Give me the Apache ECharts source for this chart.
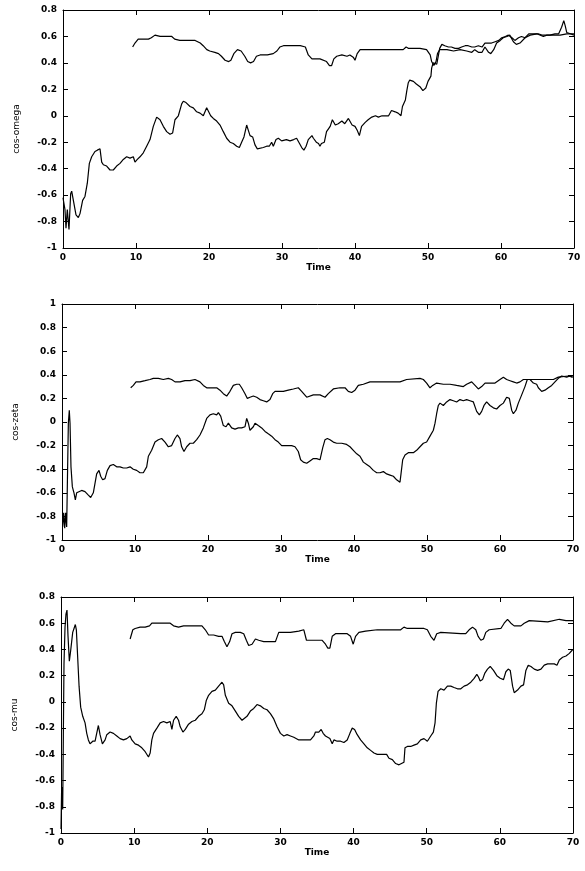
<!DOCTYPE html>
<html>
<head>
<meta charset="utf-8">
<script src="https://cdn.jsdelivr.net/npm/echarts@6/dist/echarts.min.js"></script>
<style>
html, body { margin: 0; padding: 0; background: #fff; }
#main { width: 585px; height: 871px; }
</style>
</head>
<body>
<div id="main"></div>
<script>
// axis ranges
var timeMin = 0, timeMax = 70, timeStep = 10;
var yStep = 0.2;
var panelNames = ['cos-omega', 'cos-zeta', 'cos-mu'];
var panelYMin = [-1, -1, -1];
var panelYMax = [0.8, 1, 0.8];

// panel 1 : cos-omega
var omegaLower = [
    [0, -0.62], [0.27, -0.71], [0.41, -0.85], [0.59, -0.71], [0.82, -0.86], [1.05, -0.59], [1.19, -0.57],
    [1.42, -0.64], [1.78, -0.75], [2.1, -0.77], [2.33, -0.74], [2.69, -0.64], [3.01, -0.61], [3.33, -0.51],
    [3.61, -0.36], [3.93, -0.31], [4.38, -0.27], [4.7, -0.26], [5.07, -0.25], [5.3, -0.35], [5.53, -0.37],
    [5.98, -0.38], [6.44, -0.41], [6.89, -0.41], [7.35, -0.38], [7.81, -0.36], [8.26, -0.33], [8.72, -0.31],
    [9.18, -0.32], [9.63, -0.31], [9.86, -0.35], [10.18, -0.33], [10.55, -0.31], [11.0, -0.28], [11.46, -0.23],
    [11.92, -0.18], [12.37, -0.08], [12.83, -0.01], [13.06, 0.0], [13.29, -0.03], [13.74, -0.08], [14.2, -0.12],
    [14.66, -0.14], [15.02, -0.13], [15.34, -0.03], [15.8, 0.0], [16.26, 0.09], [16.48, 0.11], [16.85, 0.1],
    [17.4, 0.07], [17.85, 0.06], [18.31, 0.03], [18.77, 0.02], [19.22, 0.0], [19.45, -0.01], [19.68, 0.06],
    [19.91, 0.07], [20.23, 0.0], [20.59, -0.02], [21.05, -0.04], [21.51, -0.07], [21.96, -0.12], [22.42, -0.17],
    [22.88, -0.2], [23.33, -0.21], [23.79, -0.23], [24.16, -0.24], [24.47, -0.2], [24.79, -0.16], [25.16, -0.07],
    [25.39, -0.11], [25.62, -0.15], [25.98, -0.16], [26.3, -0.22], [26.62, -0.25], [26.89, -0.26], [27.44, -0.24],
    [27.9, -0.23], [28.26, -0.23], [28.58, -0.2], [28.81, -0.23], [29.18, -0.18], [29.5, -0.17], [29.95, -0.19],
    [30.6, -0.18], [31.1, -0.19], [31.6, -0.18], [32.0, -0.17], [32.4, -0.21], [32.7, -0.24], [33.0, -0.26],
    [33.3, -0.23], [33.6, -0.18], [34.1, -0.15], [34.3, -0.17], [34.7, -0.2], [35.0, -0.21], [35.2, -0.23],
    [35.4, -0.21], [35.8, -0.2], [36.1, -0.12], [36.6, -0.08], [36.9, -0.03], [37.3, -0.07], [37.7, -0.06],
    [38.2, -0.04], [38.6, -0.06], [39.1, -0.02], [39.6, -0.07], [40.0, -0.08], [40.3, -0.11], [40.6, -0.15],
    [40.9, -0.08], [41.4, -0.05], [41.8, -0.03], [42.3, -0.01], [42.8, 0.0], [43.2, -0.01], [43.7, 0.0],
    [44.1, 0.0], [44.6, 0.0], [45.0, 0.04], [45.5, 0.03], [45.9, 0.02], [46.3, 0.0], [46.5, 0.07], [46.9, 0.12],
    [47.1, 0.19], [47.3, 0.25], [47.5, 0.27], [48.0, 0.26], [48.4, 0.24], [48.9, 0.22], [49.3, 0.19], [49.7, 0.21],
    [50.0, 0.26], [50.4, 0.3], [50.5, 0.36], [50.7, 0.4], [50.9, 0.41], [51.2, 0.39], [51.4, 0.45], [51.6, 0.51],
    [51.9, 0.54], [52.3, 0.53], [52.8, 0.52], [53.2, 0.52], [53.7, 0.51], [54.2, 0.51], [54.6, 0.52], [55.1, 0.53],
    [55.5, 0.53], [56.0, 0.52], [56.4, 0.52], [56.9, 0.53], [57.4, 0.52], [57.8, 0.55], [58.3, 0.55], [58.7, 0.55],
    [59.2, 0.56], [59.7, 0.57], [60.1, 0.59], [60.6, 0.6], [61.0, 0.61], [61.5, 0.59], [61.9, 0.57], [62.4, 0.59],
    [62.8, 0.6], [63.3, 0.59], [63.8, 0.62], [64.4, 0.62], [65.1, 0.62], [65.6, 0.61], [66.0, 0.61], [66.7, 0.61],
    [67.4, 0.62], [67.9, 0.62], [68.3, 0.67], [68.6, 0.72], [68.8, 0.68], [69.0, 0.63], [69.5, 0.62], [70.0, 0.61]
];
var omegaUpper = [
    [9.54, 0.52], [9.86, 0.55], [10.3, 0.58], [11.0, 0.58], [11.7, 0.58], [12.1, 0.59], [12.6, 0.61], [13.3, 0.6],
    [14.2, 0.6], [14.9, 0.6], [15.3, 0.58], [16.0, 0.57], [16.7, 0.57], [17.4, 0.57], [18.1, 0.57], [18.8, 0.55],
    [19.2, 0.53], [19.7, 0.5], [20.1, 0.49], [20.8, 0.48], [21.3, 0.47], [21.7, 0.45], [22.2, 0.42], [22.7, 0.41],
    [23.0, 0.42], [23.4, 0.47], [23.9, 0.5], [24.4, 0.49], [24.9, 0.45], [25.3, 0.41], [25.7, 0.4], [26.1, 0.41],
    [26.5, 0.45], [27.0, 0.46], [28.0, 0.46], [28.8, 0.47], [29.3, 0.49], [29.7, 0.52], [30.2, 0.53], [32.5, 0.53],
    [33.2, 0.52], [33.6, 0.46], [34.1, 0.43], [35.2, 0.43], [36.1, 0.41], [36.5, 0.38], [36.8, 0.38], [37.1, 0.43],
    [37.5, 0.45], [38.2, 0.46], [38.9, 0.45], [39.3, 0.46], [39.8, 0.44], [40.0, 0.42], [40.3, 0.47], [40.7, 0.5],
    [43.4, 0.5], [46.6, 0.5], [47.0, 0.52], [47.3, 0.51], [48.9, 0.51], [49.8, 0.5], [50.3, 0.46], [50.5, 0.41],
    [50.8, 0.38], [51.1, 0.41], [51.3, 0.47], [51.6, 0.5], [52.6, 0.5], [53.5, 0.49], [54.4, 0.5], [55.3, 0.49],
    [56.0, 0.48], [56.4, 0.5], [56.9, 0.48], [57.4, 0.48], [57.8, 0.52], [58.3, 0.48], [58.6, 0.47], [59.0, 0.5],
    [59.4, 0.55], [59.9, 0.57], [60.3, 0.59], [60.8, 0.6], [61.2, 0.61], [61.7, 0.56], [62.1, 0.54], [62.6, 0.55],
    [63.3, 0.59], [64.0, 0.61], [64.9, 0.62], [65.8, 0.6], [66.3, 0.61], [67.2, 0.61], [68.1, 0.61], [69.0, 0.62],
    [70.0, 0.62]
];

// panel 2 : cos-zeta
var zetaLower = [
    [0.09, -0.89], [0.23, -0.77], [0.37, -0.9], [0.5, -0.77], [0.64, -0.89], [0.78, -0.35], [0.87, -0.01],
    [1.0, 0.1], [1.1, -0.01], [1.23, -0.38], [1.42, -0.55], [1.64, -0.6], [1.83, -0.66], [2.01, -0.6],
    [2.24, -0.59], [2.69, -0.58], [3.15, -0.59], [3.61, -0.62], [3.93, -0.64], [4.29, -0.6], [4.52, -0.52],
    [4.75, -0.44], [5.07, -0.41], [5.3, -0.46], [5.57, -0.49], [5.89, -0.48], [6.21, -0.41], [6.58, -0.37],
    [7.03, -0.36], [7.49, -0.38], [7.95, -0.38], [8.4, -0.39], [8.86, -0.39], [9.32, -0.38], [9.54, -0.37],
    [9.77, -0.4], [10.23, -0.41], [10.68, -0.43], [11.14, -0.43], [11.6, -0.38], [11.83, -0.29], [12.28, -0.24],
    [12.74, -0.17], [13.2, -0.15], [13.65, -0.14], [14.11, -0.17], [14.57, -0.21], [15.02, -0.2], [15.48, -0.14],
    [15.8, -0.11], [16.16, -0.14], [16.39, -0.21], [16.71, -0.25], [17.08, -0.21], [17.53, -0.18], [17.99, -0.18],
    [18.45, -0.15], [18.9, -0.11], [19.36, -0.05], [19.82, 0.03], [20.27, 0.06], [20.73, 0.07], [21.19, 0.06],
    [21.42, 0.08], [21.74, 0.05], [22.1, -0.03], [22.47, -0.04], [22.79, -0.01], [23.01, -0.01], [23.24, -0.05],
    [23.7, -0.06], [24.16, -0.05], [24.61, -0.05], [25.07, -0.04], [25.3, 0.03], [25.53, -0.01], [25.75, -0.07],
    [26.21, -0.04], [26.44, -0.01], [26.89, -0.03], [27.35, -0.05], [27.81, -0.08], [28.26, -0.1], [28.72, -0.12],
    [29.18, -0.15], [29.63, -0.17], [30.09, -0.2], [30.55, -0.2], [31.0, -0.2], [31.46, -0.2], [31.92, -0.21],
    [32.37, -0.25], [32.69, -0.32], [33.06, -0.34], [33.52, -0.35], [33.97, -0.33], [34.43, -0.31], [34.89, -0.31],
    [35.34, -0.32], [35.71, -0.22], [36.03, -0.15], [36.35, -0.14], [36.71, -0.15], [37.17, -0.17], [37.63, -0.18],
    [38.31, -0.18], [38.99, -0.19], [39.45, -0.21], [39.91, -0.24], [40.37, -0.27], [40.82, -0.29], [41.28, -0.34],
    [41.74, -0.36], [42.19, -0.38], [42.65, -0.41], [43.11, -0.43], [43.56, -0.43], [44.02, -0.42], [44.47, -0.44],
    [44.93, -0.45], [45.39, -0.46], [45.84, -0.49], [46.3, -0.51], [46.44, -0.44], [46.67, -0.32], [46.99, -0.28],
    [47.44, -0.26], [48.13, -0.26], [48.58, -0.24], [49.04, -0.21], [49.5, -0.18], [49.95, -0.17], [50.41, -0.12],
    [50.87, -0.07], [51.1, -0.01], [51.32, 0.07], [51.55, 0.14], [51.78, 0.16], [52.24, 0.14], [52.69, 0.17],
    [53.15, 0.19], [53.61, 0.18], [54.06, 0.17], [54.52, 0.19], [54.98, 0.18], [55.43, 0.19], [55.89, 0.18],
    [56.35, 0.17], [56.8, 0.09], [57.17, 0.06], [57.49, 0.09], [57.81, 0.14], [58.17, 0.17], [58.63, 0.14],
    [59.09, 0.12], [59.54, 0.11], [60.0, 0.14], [60.46, 0.16], [60.91, 0.21], [61.28, 0.2], [61.6, 0.1],
    [61.83, 0.07], [62.19, 0.1], [62.51, 0.16], [62.97, 0.23], [63.42, 0.3], [63.74, 0.36], [64.11, 0.36],
    [64.57, 0.33], [65.02, 0.32], [65.25, 0.29], [65.71, 0.26], [66.16, 0.27], [66.62, 0.29], [67.08, 0.31],
    [67.53, 0.34], [67.99, 0.37], [68.45, 0.39], [69.13, 0.38], [69.59, 0.39], [69.95, 0.38]
];
var zetaUpper = [
    [9.41, 0.29], [9.77, 0.31], [10.14, 0.34], [10.68, 0.34], [11.37, 0.35], [12.05, 0.36], [12.51, 0.37],
    [13.2, 0.37], [13.88, 0.36], [14.57, 0.37], [15.02, 0.36], [15.48, 0.34], [16.16, 0.34], [16.85, 0.35],
    [17.53, 0.35], [18.22, 0.36], [18.9, 0.34], [19.36, 0.31], [19.82, 0.29], [20.5, 0.29], [21.19, 0.29],
    [21.64, 0.27], [22.1, 0.24], [22.56, 0.22], [23.01, 0.26], [23.47, 0.31], [23.93, 0.32], [24.29, 0.32],
    [24.61, 0.29], [25.07, 0.24], [25.39, 0.2], [25.75, 0.21], [26.21, 0.22], [26.67, 0.21], [27.12, 0.19],
    [27.58, 0.18], [28.04, 0.17], [28.49, 0.19], [28.86, 0.24], [29.18, 0.26], [29.63, 0.26], [30.32, 0.26],
    [31.0, 0.27], [31.69, 0.28], [32.37, 0.29], [32.83, 0.26], [33.52, 0.21], [34.43, 0.23], [35.34, 0.23],
    [36.03, 0.21], [36.48, 0.24], [37.17, 0.28], [38.08, 0.29], [38.77, 0.29], [39.22, 0.26], [39.68, 0.25],
    [40.14, 0.27], [40.59, 0.31], [41.28, 0.32], [42.19, 0.34], [43.11, 0.34], [46.3, 0.34], [47.21, 0.36],
    [49.04, 0.37], [49.5, 0.36], [49.95, 0.33], [50.41, 0.29], [50.78, 0.31], [51.32, 0.33], [52.24, 0.32],
    [53.15, 0.32], [54.06, 0.31], [54.98, 0.3], [55.43, 0.32], [56.12, 0.34], [56.58, 0.31], [57.03, 0.28],
    [57.49, 0.3], [57.95, 0.33], [59.32, 0.33], [60.0, 0.36], [60.46, 0.38], [60.91, 0.36], [61.37, 0.35],
    [61.83, 0.34], [62.28, 0.33], [62.74, 0.34], [63.2, 0.36], [63.65, 0.36], [67.31, 0.36], [67.99, 0.38],
    [69.36, 0.39], [69.95, 0.38]
];

// panel 3 : cos-mu
var muLower = [
    [0, -0.97], [0.09, -0.65], [0.23, -0.82], [0.32, -0.26], [0.41, 0.29], [0.55, 0.57], [0.68, 0.67],
    [0.82, 0.7], [0.96, 0.5], [1.14, 0.31], [1.32, 0.39], [1.6, 0.53], [1.78, 0.56], [1.96, 0.59], [2.1, 0.55],
    [2.28, 0.34], [2.47, 0.12], [2.69, -0.04], [2.97, -0.11], [3.29, -0.16], [3.52, -0.24], [3.74, -0.29],
    [3.97, -0.32], [4.34, -0.3], [4.66, -0.3], [4.89, -0.29], [5.11, -0.18], [5.34, -0.25], [5.66, -0.32],
    [6.03, -0.29], [6.26, -0.25], [6.71, -0.23], [7.17, -0.24], [7.63, -0.26], [8.08, -0.28], [8.54, -0.29],
    [9.0, -0.28], [9.45, -0.26], [9.68, -0.29], [10.14, -0.32], [10.59, -0.33], [11.05, -0.35], [11.51, -0.38],
    [11.96, -0.42], [12.19, -0.39], [12.42, -0.29], [12.65, -0.24], [13.11, -0.2], [13.56, -0.16], [14.02, -0.15],
    [14.47, -0.16], [14.93, -0.15], [15.16, -0.21], [15.39, -0.14], [15.75, -0.11], [16.07, -0.14], [16.3, -0.19],
    [16.67, -0.23], [16.99, -0.21], [17.44, -0.17], [17.9, -0.15], [18.36, -0.14], [18.81, -0.11], [19.27, -0.09],
    [19.59, -0.06], [19.86, 0.01], [20.18, 0.05], [20.64, 0.08], [21.1, 0.09], [21.55, 0.12], [22.01, 0.15],
    [22.24, 0.13], [22.47, 0.05], [22.92, -0.01], [23.38, -0.03], [23.84, -0.07], [24.29, -0.11], [24.75, -0.14],
    [24.98, -0.15], [25.43, -0.11], [25.89, -0.07], [26.35, -0.05], [26.8, -0.02], [27.26, -0.03], [27.72, -0.05],
    [28.17, -0.06], [28.63, -0.09], [29.09, -0.13], [29.54, -0.19], [30.0, -0.24], [30.46, -0.26], [30.91, -0.25],
    [31.37, -0.26], [31.83, -0.27], [32.51, -0.29], [32.74, -0.29], [33.42, -0.29], [34.11, -0.29], [34.57, -0.26],
    [34.79, -0.23], [35.25, -0.23], [35.57, -0.21], [35.84, -0.24], [36.16, -0.26], [36.39, -0.25], [36.76, -0.28],
    [37.08, -0.32], [37.31, -0.29], [37.76, -0.3], [38.22, -0.3], [38.68, -0.31], [39.13, -0.29], [39.5, -0.24],
    [39.82, -0.2], [40.14, -0.21], [40.5, -0.25], [40.96, -0.29], [41.42, -0.32], [41.87, -0.35], [42.33, -0.37],
    [42.79, -0.39], [43.24, -0.4], [44.16, -0.4], [44.52, -0.4], [44.84, -0.43], [45.3, -0.44], [45.75, -0.47],
    [46.21, -0.48], [46.89, -0.46], [47.03, -0.35], [47.35, -0.34], [47.81, -0.34], [48.26, -0.33], [48.72, -0.32],
    [49.18, -0.29], [49.63, -0.28], [50.09, -0.3], [50.55, -0.26], [50.91, -0.23], [51.14, -0.16], [51.32, -0.01],
    [51.55, 0.08], [51.92, 0.1], [52.37, 0.09], [52.83, 0.12], [53.29, 0.12], [53.74, 0.11], [54.2, 0.1],
    [54.66, 0.1], [55.11, 0.12], [55.57, 0.13], [56.03, 0.15], [56.48, 0.18], [56.85, 0.21], [57.08, 0.19],
    [57.31, 0.16], [57.63, 0.17], [57.95, 0.22], [58.31, 0.25], [58.68, 0.27], [59.13, 0.24], [59.59, 0.2],
    [60.05, 0.18], [60.5, 0.17], [60.82, 0.23], [61.14, 0.25], [61.42, 0.24], [61.74, 0.12], [61.96, 0.07],
    [62.42, 0.09], [62.88, 0.12], [63.24, 0.13], [63.56, 0.24], [63.88, 0.28], [64.25, 0.27], [64.7, 0.25],
    [65.16, 0.24], [65.62, 0.25], [66.07, 0.28], [66.53, 0.29], [67.44, 0.29], [67.81, 0.28], [68.13, 0.32],
    [68.58, 0.34], [69.04, 0.35], [69.5, 0.37], [69.82, 0.39], [70.0, 0.4]
];
var muUpper = [
    [9.45, 0.48], [9.82, 0.55], [10.14, 0.56], [10.82, 0.57], [11.51, 0.57], [12.1, 0.58], [12.42, 0.6],
    [13.11, 0.6], [14.02, 0.6], [14.93, 0.6], [15.39, 0.58], [16.07, 0.57], [16.76, 0.58], [17.44, 0.58],
    [18.13, 0.58], [19.27, 0.58], [19.73, 0.55], [20.18, 0.51], [20.87, 0.51], [21.55, 0.5], [22.01, 0.5],
    [22.33, 0.46], [22.69, 0.42], [23.06, 0.46], [23.38, 0.52], [23.84, 0.53], [24.52, 0.53], [24.98, 0.52],
    [25.34, 0.47], [25.66, 0.43], [26.12, 0.44], [26.58, 0.48], [27.03, 0.47], [27.72, 0.46], [28.63, 0.46],
    [29.32, 0.46], [29.77, 0.53], [30.46, 0.53], [31.37, 0.53], [32.51, 0.54], [32.74, 0.55], [33.2, 0.55],
    [33.56, 0.47], [34.11, 0.47], [35.02, 0.47], [35.71, 0.47], [36.16, 0.44], [36.48, 0.41], [36.76, 0.41],
    [37.08, 0.5], [37.53, 0.52], [39.13, 0.52], [39.59, 0.5], [39.95, 0.44], [40.27, 0.5], [40.73, 0.53],
    [41.64, 0.54], [43.24, 0.55], [46.44, 0.55], [46.89, 0.57], [47.35, 0.56], [49.63, 0.56], [50.09, 0.55],
    [50.55, 0.5], [51.0, 0.47], [51.37, 0.52], [51.92, 0.53], [54.66, 0.52], [55.34, 0.52], [55.8, 0.55],
    [56.26, 0.57], [56.71, 0.55], [57.03, 0.5], [57.4, 0.47], [57.76, 0.48], [58.08, 0.53], [58.54, 0.55],
    [60.14, 0.56], [60.59, 0.6], [61.05, 0.63], [61.51, 0.6], [61.96, 0.58], [62.88, 0.58], [63.33, 0.6],
    [64.02, 0.62], [66.55, 0.61], [68.13, 0.63], [69.04, 0.62], [70.0, 0.62]
];

var panelSeries = [[omegaLower, omegaUpper], [zetaLower, zetaUpper], [muLower, muUpper]];

// plot boxes in pixels
var boxes = [
    { left: 63, top: 10, width: 511, height: 238 },
    { left: 62, top: 304, width: 511, height: 236 },
    { left: 61, top: 597, width: 512, height: 236 }
];

var labelFont = { color: '#000', fontSize: 9, fontWeight: 'bold', fontFamily: 'DejaVu Sans' };
var lineBlack = { color: '#000', width: 1 };

function frameAxis(extra) {
    var axis = {
        type: 'value',
        axisLine: { show: true, onZero: false, lineStyle: lineBlack },
        axisTick: { show: true, inside: true, length: 5, lineStyle: lineBlack },
        splitLine: { show: false },
        axisLabel: { show: false }
    };
    for (var k in extra) axis[k] = extra[k];
    return axis;
}

var grids = [], xAxes = [], yAxes = [], series = [];
for (var i = 0; i < 3; i++) {
    grids.push(boxes[i]);
    // bottom axis with labels, top axis only ticks
    xAxes.push(frameAxis({
        gridIndex: i, position: 'bottom', min: timeMin, max: timeMax, interval: timeStep,
        name: 'Time', nameLocation: 'middle', nameGap: 13,
        nameTextStyle: { color: '#000', fontSize: 9, fontWeight: 'bold', fontFamily: 'DejaVu Sans' },
        axisLabel: Object.assign({ show: true, margin: 5 }, labelFont)
    }));
    xAxes.push(frameAxis({ gridIndex: i, position: 'top', min: timeMin, max: timeMax, interval: timeStep }));
    // left axis with labels, right axis only ticks
    yAxes.push(frameAxis({
        gridIndex: i, position: 'left', min: panelYMin[i], max: panelYMax[i], interval: yStep,
        name: panelNames[i], nameLocation: 'middle', nameRotate: 90, nameGap: 42,
        nameTextStyle: { color: '#000', fontSize: 9, fontFamily: 'DejaVu Sans' },
        axisLabel: Object.assign({ show: true, margin: 6, formatter: function (v) { return String(Math.round(v * 10) / 10); } }, labelFont)
    }));
    yAxes.push(frameAxis({ gridIndex: i, position: 'right', min: panelYMin[i], max: panelYMax[i], interval: yStep }));

    for (var j = 0; j < 2; j++) {
        series.push({
            type: 'line',
            xAxisIndex: i * 2,
            yAxisIndex: i * 2,
            data: panelSeries[i][j],
            showSymbol: false,
            lineStyle: { color: '#000', width: 1.2 },
            silent: true
        });
    }
}

var chart = echarts.init(document.getElementById('main'), null, { renderer: 'canvas' });
option = {
    backgroundColor: '#fff',
    animation: false,
    grid: grids,
    xAxis: xAxes,
    yAxis: yAxes,
    series: series
};
chart.setOption(option);
</script>
</body>
</html>
